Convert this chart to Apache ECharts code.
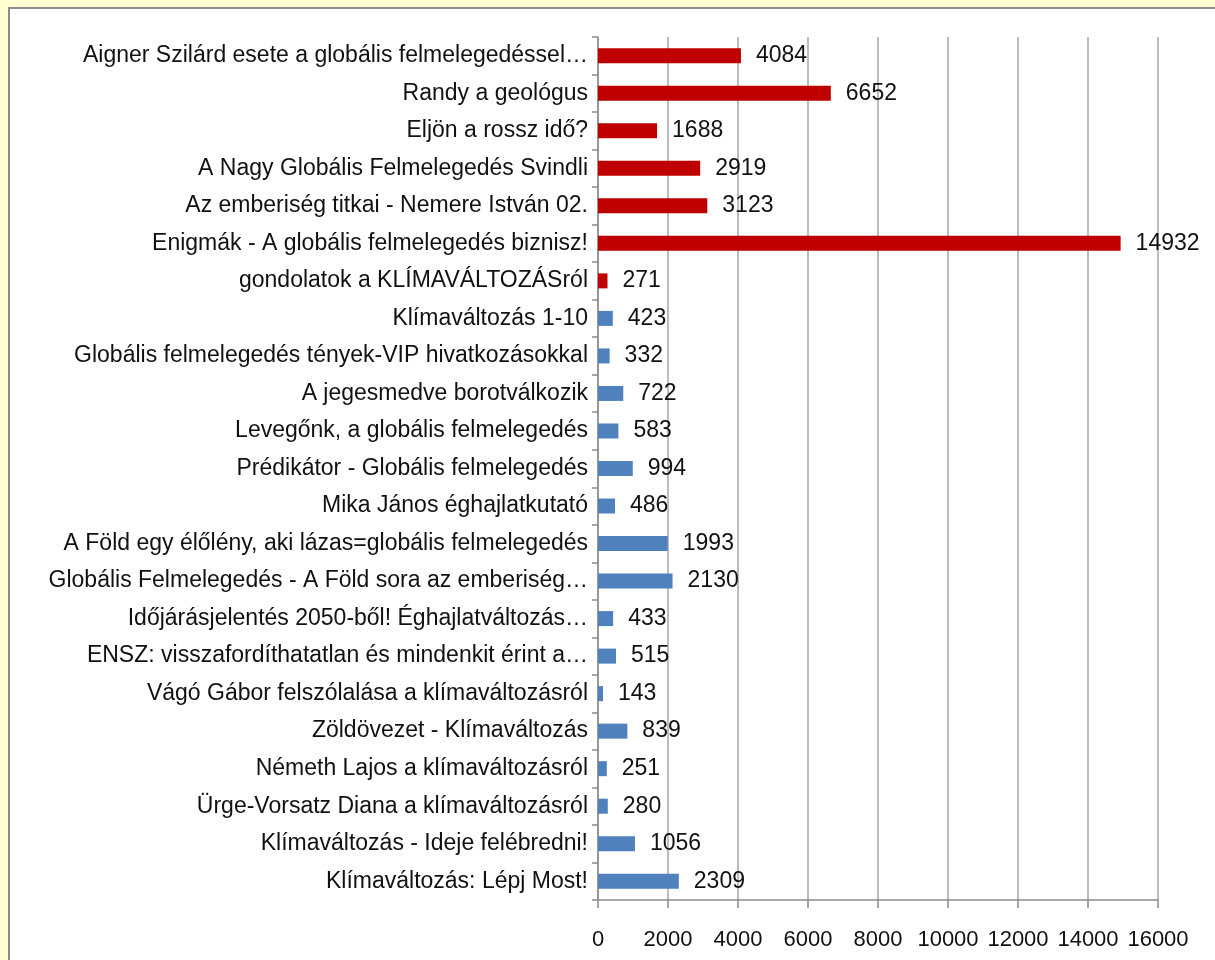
<!DOCTYPE html>
<html lang="hu">
<head>
    <meta charset="UTF-8">
    <title>Videók nézettsége</title>
    <script src="https://cdn.jsdelivr.net/npm/echarts@6/dist/echarts.min.js"></script>
    <style>
        body {
            margin: 0;
            padding: 0;
            background: #FFFFD2;
            overflow: hidden;
        }
        .panel {
            position: absolute;
            left: 8px;
            top: 7px;
            width: 1220px;
            height: 970px;
            background: #ffffff;
            border: 2px solid #8c8c8c;
        }
        #chart {
            position: absolute;
            left: 0;
            top: 0;
            width: 1215px;
            height: 960px;
        }
    </style>
</head>
<body>
    <div class="panel"></div>
    <div id="chart"></div>

<script>
    // categories from top to bottom
    const categories = [
        'Aigner Szilárd esete a globális felmelegedéssel…',
        'Randy a geológus',
        'Eljön a rossz idő?',
        'A Nagy Globális Felmelegedés Svindli',
        'Az emberiség titkai - Nemere István 02.',
        'Enigmák - A globális felmelegedés biznisz!',
        'gondolatok a KLÍMAVÁLTOZÁSról',
        'Klímaváltozás 1-10',
        'Globális felmelegedés tények-VIP hivatkozásokkal',
        'A jegesmedve borotválkozik',
        'Levegőnk, a globális felmelegedés',
        'Prédikátor - Globális felmelegedés',
        'Mika János éghajlatkutató',
        'A Föld egy élőlény, aki lázas=globális felmelegedés',
        'Globális Felmelegedés - A Föld sora az emberiség…',
        'Időjárásjelentés 2050-ből! Éghajlatváltozás…',
        'ENSZ: visszafordíthatatlan és mindenkit érint a…',
        'Vágó Gábor felszólalása a klímaváltozásról',
        'Zöldövezet - Klímaváltozás',
        'Németh Lajos a klímaváltozásról',
        'Ürge-Vorsatz Diana a klímaváltozásról',
        'Klímaváltozás - Ideje felébredni!',
        'Klímaváltozás: Lépj Most!'
    ];
    const views = [4084, 6652, 1688, 2919, 3123, 14932, 271,
        423, 332, 722, 583, 994, 486, 1993, 2130, 433, 515, 143, 839, 251, 280, 1056, 2309];
    // first seven bars are red, the rest blue
    const redCount = 7;
    const xTicks = [0, 2000, 4000, 6000, 8000, 10000, 12000, 14000, 16000];

    const chart = echarts.init(document.getElementById('chart'), null, { renderer: 'canvas' });

    const option = {
        backgroundColor: 'transparent',
        animation: false,
        textStyle: { fontFamily: 'Liberation Sans, Arial, sans-serif' },
        grid: {
            left: 598,
            right: 57,
            top: 37,
            bottom: 60,
            containLabel: false
        },
        xAxis: {
            type: 'value',
            min: xTicks[0],
            max: xTicks[xTicks.length - 1],
            interval: 2000,
            axisLine: { show: true, lineStyle: { color: '#8c8c8c', width: 1.5 } },
            axisTick: { show: true, length: 8, lineStyle: { color: '#8c8c8c', width: 1.5 } },
            axisLabel: {
                color: '#111',
                fontSize: 22,
                margin: 29,
                formatter: v => String(v)
            },
            splitLine: { show: true, lineStyle: { color: '#a6a6a6', width: 1.5 } }
        },
        yAxis: {
            type: 'category',
            data: categories,
            inverse: true,
            axisLine: { show: true, lineStyle: { color: '#8c8c8c', width: 1.5 } },
            axisTick: { show: true, length: 6, alignWithLabel: false, lineStyle: { color: '#8c8c8c', width: 1.5 } },
            axisLabel: { color: '#111', fontSize: 23, margin: 10 },
            splitLine: { show: false }
        },
        series: [{
            type: 'bar',
            data: views.map((v, i) => ({
                value: v,
                itemStyle: { color: i < redCount ? '#C00000' : '#4F81BD' }
            })),
            barWidth: 15,
            label: {
                show: true,
                position: 'right',
                distance: 15,
                color: '#111',
                fontSize: 23
            }
        }]
    };

    chart.setOption(option);
</script>
</body>
</html>
